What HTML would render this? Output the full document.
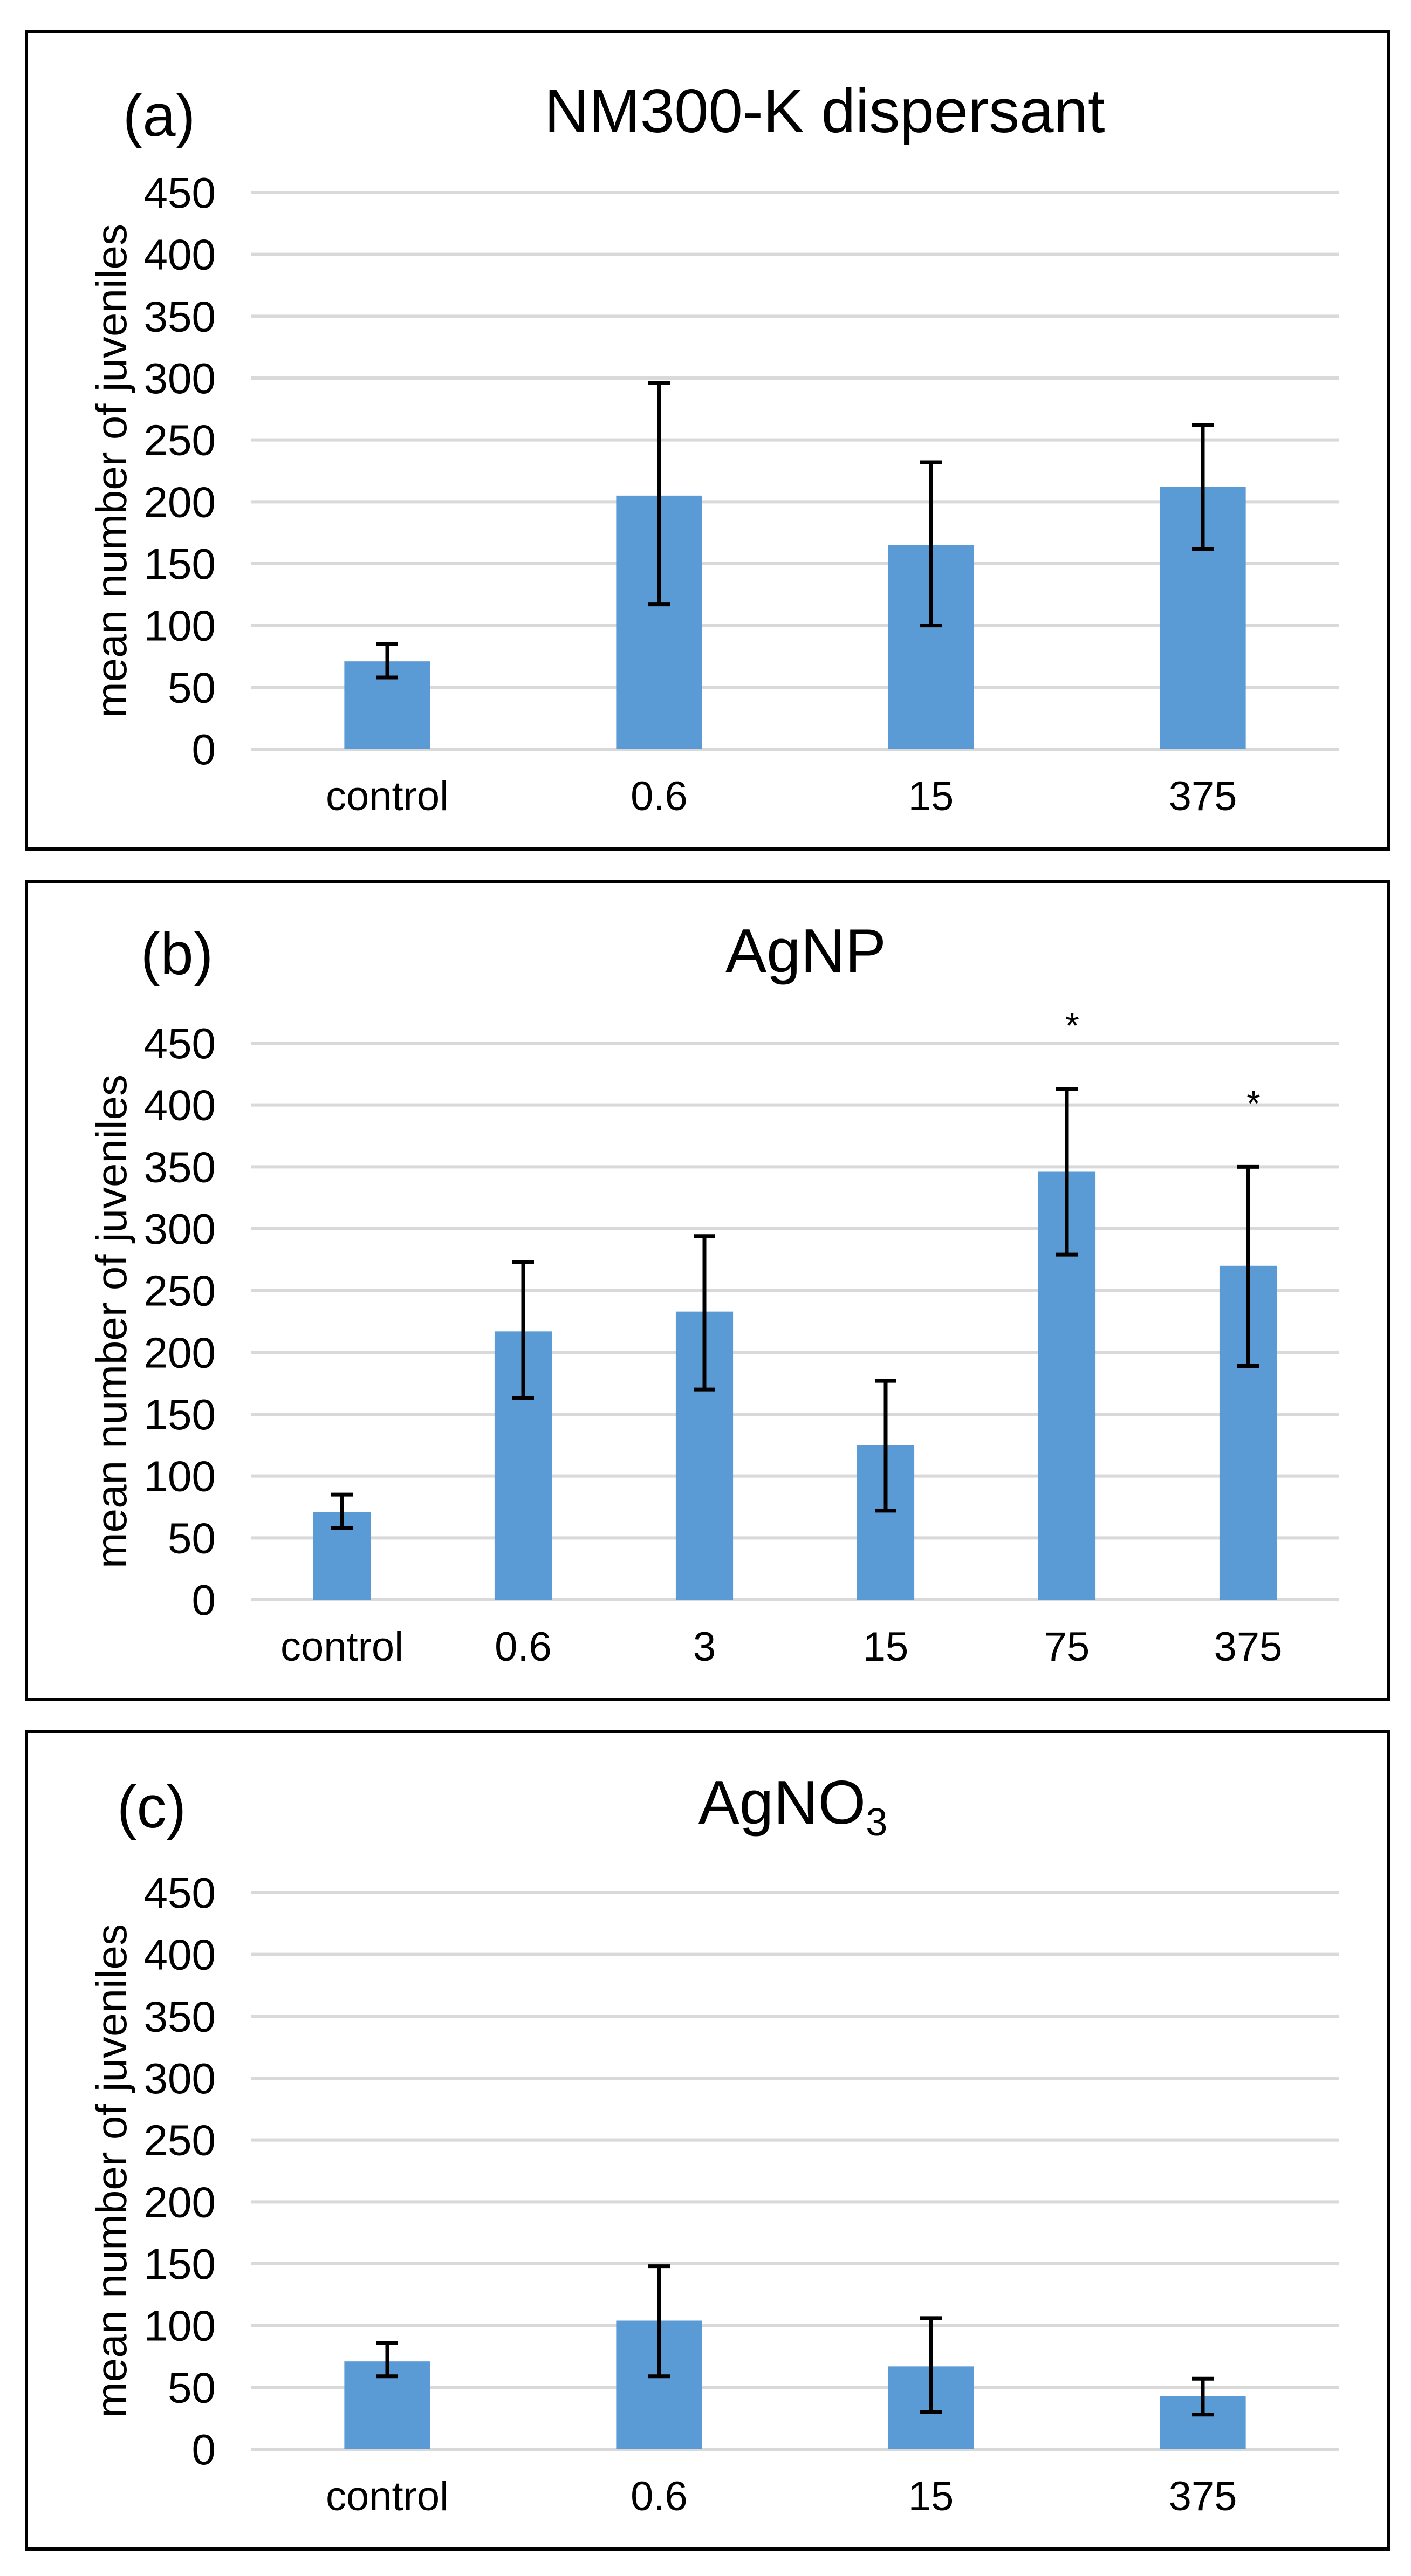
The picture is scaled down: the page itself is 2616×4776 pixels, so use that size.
<!DOCTYPE html>
<html><head><meta charset="utf-8"><style>
html,body{margin:0;padding:0;background:#fff;}
svg{display:block;}
text{font-family:"Liberation Sans",Arial,sans-serif;fill:#000;}
</style></head><body>
<svg id="fig" width="2616" height="4776" viewBox="0 0 2616 4776" xmlns="http://www.w3.org/2000/svg"></svg>
<script>
const ticks = [0,50,100,150,200,250,300,350,400,450];
const catsA = ["control","0.6","15","375"];
const meanA = [71,205,165,212];
const loA = [58,117,100,162];
const hiA = [85,296,232,262];
const catsB = ["control","0.6","3","15","75","375"];
const meanB = [71,217,233,125,346,270];
const loB = [58,163,170,72,279,189];
const hiB = [85,273,294,177,413,350];
const sigB = [false,false,false,false,true,true];
const catsC = ["control","0.6","15","375"];
const meanC = [71,104,67,43];
const loC = [59,59,30,28];
const hiC = [86,148,106,57];

const NS = "http://www.w3.org/2000/svg";
const svg = document.getElementById('fig');
function mk(tag, attrs, parent){
  const e = document.createElementNS(NS, tag);
  for (const k in attrs) e.setAttribute(k, attrs[k]);
  (parent||svg).appendChild(e);
  return e;
}
function panel(id, top, label, labelX, labelY, titleX, titleY, titleHtml, cats, mean, lo, hi, sig){
  const g = mk('g', {});
  
  
  const border = mk('rect', {x:49, y:top, width:2525, height:1516, fill:'none', stroke:'#000', 'stroke-width':6}, g);
  
  
  const y0 = top + 1331, y450 = top + 299;
  const x0 = 466, x1 = 2482;
  const ys = v => y0 - (v/450)*(y0 - y450);
  const band = (x1 - x0)/cats.length;
  const xc = i => x0 + band*(i + 0.5);
  const bw = band*0.316;
  ticks.forEach(t => {
    const l = mk('line', {x1:x0, x2:x1, y1:ys(t), y2:ys(t), stroke:'#D9D9D9', 'stroke-width':6}, g);
    
    
    const tx = mk('text', {x:400, y:ys(t)+28, 'font-size':80, 'text-anchor':'end'}, g);
    tx.textContent = t;
    
    
  });
  const yt = mk('text', {x:0, y:0, 'font-size':80, 'text-anchor':'middle', transform:'translate(234,'+((y0+y450)/2)+') rotate(-90)'}, g);
  yt.textContent = 'mean number of juveniles';
  
  
  const pl = mk('text', {x:labelX, y:labelY, 'font-size':110, 'text-anchor':'middle'}, g);
  pl.textContent = label;
  
  
  const tt = mk('text', {x:titleX, y:titleY, 'font-size':114, 'text-anchor':'middle'}, g);
  tt.innerHTML = titleHtml;
  
  
  cats.forEach((c, i) => {
    const b = mk('rect', {x:xc(i)-bw/2, y:ys(mean[i]), width:bw, height:y0 - ys(mean[i]), fill:'#5B9BD5'}, g);
    
    
    const e = mk('path', {d:'M'+(xc(i)-20)+' '+ys(hi[i])+'H'+(xc(i)+20)+'M'+xc(i)+' '+ys(hi[i])+'V'+ys(lo[i])+'M'+(xc(i)-20)+' '+ys(lo[i])+'H'+(xc(i)+20), stroke:'#000', 'stroke-width':7, fill:'none'}, g);
    
    
    const cl = mk('text', {x:xc(i), y:y0+113, 'font-size':76, 'text-anchor':'middle'}, g);
    cl.textContent = c;
    
    
    if (sig && sig[i]) {
      const s = mk('text', {x:xc(i)+10, y:ys(hi[i])-95, 'font-size':66, 'text-anchor':'middle'}, g);
      s.textContent = '*';
      
      
    }
  });
}
panel('a', 58, '(a)', 295, 252, 1529, 245, 'NM300-K dispersant', catsA, meanA, loA, hiA, null);
panel('b', 1635, '(b)', 328, 1806, 1494, 1802, 'AgNP', catsB, meanB, loB, hiB, sigB);
panel('c', 3210, '(c)', 281, 3388, 1470, 3381, 'AgNO<tspan font-size="72" dy="22">3</tspan>', catsC, meanC, loC, hiC, null);
</script>
</body></html>
